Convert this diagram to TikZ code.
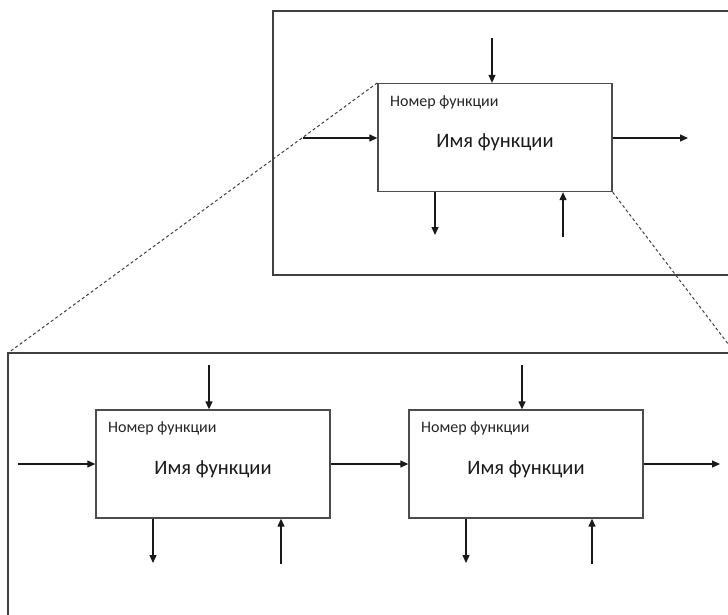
\documentclass[tikz,border=0pt]{standalone}
\usepackage{fontspec}
\setmainfont{Carlito}
\usetikzlibrary{arrows.meta}
\tikzset{
  frameline/.style={draw=black!75, line width=1.3pt},
  funcbox/.style={draw=black!70, line width=1.3pt, fill=white, minimum width=234pt, minimum height=108pt, inner sep=0pt},
  flow/.style={draw=black!90, line width=1.2pt, -{Triangle[length=8pt,width=7pt]}},
  zoomline/.style={draw=black!75, line width=1pt, dash pattern=on 3pt off 2.5pt},
  numlabel/.style={font=\fontsize{16}{16}\selectfont, text=black!85, anchor=west, inner sep=0pt},
  namelabel/.style={font=\fontsize{20.5}{20.5}\selectfont, text=black!90, inner sep=0pt},
}
\begin{document}
\begin{tikzpicture}[x=1pt,y=-1pt]
\useasboundingbox (0,0) rectangle (728,614);
\clip (0,0) rectangle (728,614);
% frames
\draw[frameline] (740,11) -- (273,11) -- (273,275) -- (740,275);
\draw[frameline] (740,353) -- (8,353) -- (8,630);
% top box
\node[funcbox] (T) at (495,137.5) {};
\node[numlabel] (Tn) at (390,102) {Номер функции};
\node[namelabel] (Tm) at (495,142) {Имя функции};
\coordinate (Tctl) at (492,38);
\coordinate (Tin) at (303,138);
\coordinate (Tout) at (688,138);
\coordinate (Tmo) at (435,235);
\coordinate (Tme) at (563,237);
\draw[flow] (Tctl) -- (Tctl |- T.north);
\draw[flow] (Tin) -- (Tin -| T.west);
\draw[flow] (Tout -| T.east) -- (Tout);
\draw[flow] (Tmo |- T.south) -- (Tmo);
\draw[flow] (Tme) -- (Tme |- T.south);
% bottom box 1
\node[funcbox] (A) at (213,464) {};
\node[numlabel] (An) at (108,428) {Номер функции};
\node[namelabel] (Am) at (213,469) {Имя функции};
\coordinate (Actl) at (209,365);
\coordinate (Ain) at (18,464);
\coordinate (Amo) at (153,563);
\coordinate (Ame) at (281,564);
\draw[flow] (Actl) -- (Actl |- A.north);
\draw[flow] (Ain) -- (Ain -| A.west);
\draw[flow] (Amo |- A.south) -- (Amo);
\draw[flow] (Ame) -- (Ame |- A.south);
% bottom box 2
\node[funcbox] (B) at (526,464) {};
\node[numlabel] (Bn) at (421,428) {Номер функции};
\node[namelabel] (Bm) at (526,469) {Имя функции};
\coordinate (Bctl) at (522,365);
\coordinate (Bout) at (720,464);
\coordinate (Bmo) at (466,563);
\coordinate (Bme) at (592,564);
\draw[flow] (Bctl) -- (Bctl |- B.north);
\draw[flow] (A.east) -- (B.west);
\draw[flow] (Bout -| B.east) -- (Bout);
\draw[flow] (Bmo |- B.south) -- (Bmo);
\draw[flow] (Bme) -- (Bme |- B.south);
% zoom lines
\coordinate (Fl) at (8,353);
\coordinate (Fr) at (735,353);
\draw[zoomline] (T.north west) -- (Fl);
\draw[zoomline] (T.south east) -- (Fr);
\end{tikzpicture}
\end{document}
